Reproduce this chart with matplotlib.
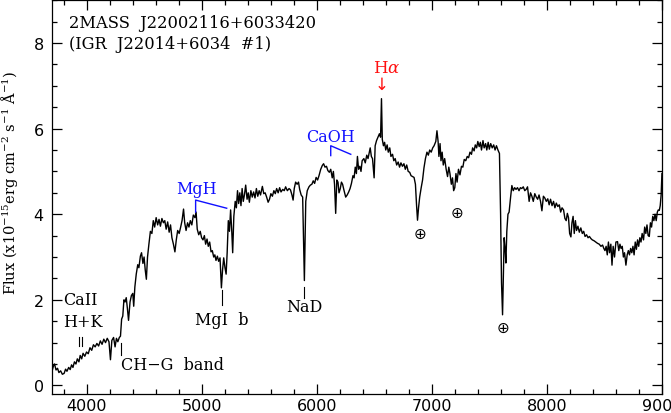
import numpy as np
import matplotlib
matplotlib.use('Agg')
import matplotlib.pyplot as plt
from matplotlib.ticker import MultipleLocator

# spectrum (wavelength in A, flux in 1e-15 erg/cm2/s/A)
wave = [3700, 3712, 3722, 3735, 3748, 3760, 3775, 3790, 3805, 3818, 3830, 3845, 3858, 3870, 3882, 3895,
        3908, 3920, 3934, 3945, 3958, 3970, 3985, 4000, 4015, 4030, 4045, 4060, 4075, 4090, 4105, 4120,
        4135, 4150, 4165, 4180, 4195, 4208, 4220, 4235, 4248, 4260, 4272, 4285, 4295, 4305, 4315, 4325,
        4335, 4345, 4355, 4365, 4378, 4390, 4402, 4410, 4420, 4432, 4445, 4455, 4468, 4478, 4490, 4500,
        4510, 4520, 4530, 4542, 4555, 4568, 4580, 4592, 4605, 4618, 4630, 4642, 4655, 4668, 4680, 4692,
        4705, 4718, 4730, 4742, 4755, 4768, 4780, 4792, 4805, 4818, 4830, 4843, 4853, 4865, 4878, 4890,
        4902, 4915, 4928, 4942, 4952, 4962, 4975, 4988, 5000, 5012, 5024, 5035, 5047, 5058, 5070, 5082,
        5093, 5105, 5115, 5125, 5137, 5148, 5160, 5172, 5182, 5192, 5203, 5213, 5222, 5232, 5242, 5252,
        5262, 5270, 5280, 5292, 5302, 5312, 5322, 5332, 5342, 5352, 5362, 5372, 5383, 5395, 5405, 5415,
        5428, 5440, 5452, 5464, 5476, 5488, 5500, 5512, 5528, 5540, 5552, 5565, 5578, 5590, 5602, 5615,
        5628, 5640, 5652, 5665, 5678, 5690, 5705, 5718, 5730, 5745, 5760, 5772, 5785, 5795, 5805, 5817,
        5830, 5842, 5852, 5865, 5878, 5893, 5905, 5918, 5933, 5945, 5958, 5970, 5982, 5995, 6008, 6020,
        6035, 6049, 6060, 6072, 6085, 6097, 6110, 6122, 6135, 6145, 6155, 6165, 6175, 6185, 6194, 6205,
        6215, 6225, 6238, 6252, 6265, 6278, 6290, 6302, 6315, 6325, 6335, 6345, 6354, 6364, 6375, 6385,
        6395, 6410, 6422, 6435, 6446, 6455, 6465, 6475, 6485, 6499, 6508, 6520, 6532, 6545, 6555, 6563,
        6570, 6580, 6590, 6600, 6612, 6622, 6635, 6645, 6659, 6670, 6682, 6695, 6708, 6720, 6732, 6745,
        6758, 6770, 6782, 6795, 6808, 6820, 6833, 6846, 6858, 6868, 6876, 6885, 6895, 6908, 6920, 6932,
        6945, 6958, 6970, 6982, 6995, 7008, 7020, 7035, 7045, 7055, 7062, 7072, 7080, 7090, 7100, 7112,
        7125, 7137, 7148, 7158, 7170, 7180, 7190, 7200, 7210, 7220, 7232, 7245, 7258, 7270, 7282, 7295,
        7308, 7320, 7332, 7345, 7355, 7368, 7378, 7390, 7400, 7412, 7422, 7432, 7445, 7455, 7468, 7478,
        7490, 7500, 7512, 7525, 7538, 7550, 7562, 7575, 7588, 7598, 7606, 7615, 7622, 7629, 7637, 7644,
        7652, 7662, 7672, 7685, 7696, 7708, 7720, 7732, 7745, 7758, 7770, 7782, 7795, 7808, 7820, 7832,
        7846, 7858, 7870, 7882, 7895, 7908, 7920, 7932, 7945, 7957, 7970, 7982, 7995, 8008, 8020, 8032,
        8045, 8058, 8070, 8082, 8095, 8108, 8120, 8132, 8145, 8157, 8168, 8178, 8188, 8198, 8209, 8218,
        8228, 8238, 8248, 8258, 8270, 8282, 8295, 8308, 8320, 8332, 8345, 8358, 8370, 8383, 8395, 8410,
        8425, 8440, 8455, 8470, 8484, 8495, 8505, 8515, 8525, 8535, 8545, 8556, 8566, 8576, 8588, 8600,
        8614, 8625, 8635, 8645, 8655, 8665, 8675, 8687, 8698, 8708, 8718, 8728, 8738, 8748, 8758, 8768,
        8778, 8788, 8798, 8808, 8818, 8828, 8840, 8850, 8860, 8870, 8880, 8890, 8900, 8910, 8920, 8930,
        8940, 8950, 8960, 8968, 8977, 8985, 8993, 9000]
flux = [0.33, 0.45, 0.50, 0.36, 0.40, 0.30, 0.34, 0.26, 0.28, 0.38, 0.33, 0.42, 0.37, 0.48, 0.42, 0.55,
        0.50, 0.62, 0.55, 0.70, 0.62, 0.75, 0.68, 0.78, 0.74, 0.88, 0.82, 0.95, 0.90, 0.98, 0.92, 1.04,
        0.96, 1.08, 1.00, 1.10, 1.02, 0.60, 1.05, 1.12, 0.90, 1.10, 1.02, 1.12, 1.15, 1.55, 1.62, 2.00,
        1.95, 2.05, 1.80, 1.52, 1.95, 2.10, 2.15, 1.85, 2.30, 2.60, 2.82, 2.75, 3.02, 3.10, 2.85, 3.00,
        2.70, 2.48, 3.00, 3.30, 3.60, 3.55, 3.85, 3.70, 3.92, 3.75, 3.88, 3.72, 3.90, 3.80, 3.85, 3.65,
        3.82, 3.58, 3.75, 3.45, 3.30, 3.12, 3.40, 3.62, 3.55, 3.70, 3.85, 4.12, 3.80, 3.62, 3.80, 3.70,
        3.85, 3.75, 3.98, 3.92, 4.05, 3.65, 3.52, 3.60, 3.45, 3.40, 3.50, 3.30, 3.42, 3.25, 3.35, 3.12,
        3.15, 3.00, 3.05, 2.92, 3.02, 2.90, 2.98, 2.28, 2.70, 2.98, 2.75, 2.60, 3.10, 3.85, 3.60, 4.10,
        3.60, 3.10, 3.95, 4.30, 4.15, 4.55, 4.25, 4.50, 4.20, 4.60, 4.30, 4.45, 4.68, 4.35, 4.50, 4.28,
        4.55, 4.40, 4.52, 4.38, 4.60, 4.42, 4.55, 4.45, 4.65, 4.48, 4.50, 4.40, 4.28, 4.35, 4.48, 4.42,
        4.55, 4.48, 4.60, 4.50, 4.62, 4.52, 4.58, 4.55, 4.64, 4.55, 4.60, 4.57, 4.45, 4.33, 4.60, 4.75,
        4.70, 4.75, 4.58, 4.45, 4.40, 2.45, 4.30, 4.55, 4.64, 4.68, 4.70, 4.78, 4.72, 4.86, 4.80, 4.90,
        5.05, 5.14, 5.18, 5.10, 5.12, 5.02, 4.98, 5.05, 4.85, 5.00, 4.70, 4.02, 4.80, 4.75, 4.50, 4.60,
        4.75, 4.70, 4.55, 4.40, 4.45, 4.52, 4.60, 4.72, 4.90, 4.85, 5.10, 4.95, 5.35, 5.05, 5.12, 5.00,
        5.25, 5.30, 5.20, 5.38, 5.30, 5.42, 5.55, 5.35, 5.30, 4.85, 5.60, 5.72, 5.80, 5.88, 5.80, 6.70,
        5.75, 5.60, 5.68, 5.50, 5.62, 5.45, 5.55, 5.35, 5.40, 5.25, 5.30, 5.15, 5.22, 5.10, 5.20, 5.12,
        5.18, 5.05, 5.15, 5.00, 4.98, 4.90, 4.88, 4.86, 4.70, 4.20, 3.86, 4.15, 4.40, 4.62, 4.80, 5.08,
        5.30, 5.45, 5.38, 5.50, 5.45, 5.55, 5.60, 5.70, 5.95, 5.70, 5.35, 5.65, 5.25, 5.45, 5.15, 5.30,
        5.05, 4.88, 5.10, 4.95, 4.70, 4.85, 4.55, 4.62, 4.95, 4.75, 5.05, 4.92, 5.12, 5.10, 5.28, 5.25,
        5.35, 5.32, 5.45, 5.40, 5.55, 5.48, 5.62, 5.55, 5.70, 5.58, 5.68, 5.50, 5.72, 5.55, 5.65, 5.50,
        5.68, 5.52, 5.65, 5.55, 5.62, 5.50, 5.60, 5.50, 5.42, 4.00, 2.40, 1.65, 2.50, 3.45, 3.20, 2.86,
        3.60, 4.00, 4.05, 4.40, 4.67, 4.55, 4.62, 4.58, 4.62, 4.55, 4.62, 4.60, 4.64, 4.55, 4.58, 4.64,
        4.30, 4.50, 4.42, 4.30, 4.48, 4.40, 4.35, 4.45, 4.30, 4.08, 4.42, 4.38, 4.30, 4.36, 4.22, 4.35,
        4.20, 4.30, 4.15, 4.26, 4.18, 4.22, 4.05, 4.15, 4.10, 3.90, 3.85, 4.02, 3.92, 3.55, 3.47, 3.80,
        3.95, 3.55, 3.85, 3.62, 3.72, 3.58, 3.68, 3.55, 3.60, 3.48, 3.52, 3.45, 3.48, 3.43, 3.40, 3.38,
        3.35, 3.32, 3.30, 3.25, 3.28, 3.20, 3.15, 3.25, 3.05, 3.35, 3.10, 3.30, 2.81, 3.25, 3.00, 3.35,
        3.36, 3.15, 3.30, 3.20, 3.25, 3.00, 3.10, 2.81, 3.05, 3.15, 3.05, 3.20, 3.10, 3.25, 3.05, 3.35,
        3.18, 3.40, 3.25, 3.45, 3.35, 3.55, 3.40, 3.70, 3.55, 3.75, 3.50, 3.48, 3.80, 3.70, 3.95, 3.85,
        4.00, 3.85, 4.05, 4.10, 4.09, 4.20, 4.45, 4.95]

# line identifications: (label, x, y, ha)
black_labels = [('CaII', 3800, 2.00, 'left'),
                ('H+K', 3800, 1.49, 'left'),
                ('CH\u2212G  band', 4302, 0.49, 'left'),
                ('MgI  b', 5175, 1.53, 'center'),
                ('NaD', 5893, 1.84, 'center')]
# short vertical marks: (x, y_low, y_high)
marks = [(3933, 0.91, 1.12), (3963, 0.91, 1.12), (4300, 0.72, 1.00),
         (5175, 1.88, 2.23), (5893, 2.05, 2.30)]
telluric_x = [6896, 7217, 7622]
telluric_y = [3.56, 4.05, 1.35]

serif = 'DejaVu Serif'
plt.rcParams['mathtext.fontset'] = 'dejavuserif'

fig = plt.figure(figsize=(6.71, 4.14), dpi=100)
ax = fig.add_axes([0.0775, 0.046, 0.909, 0.951])

ax.plot(wave, flux, color='black', lw=1.0)

ax.set_xlim(3700, 9000)
ax.set_ylim(-0.2, 9.0)
ax.xaxis.set_major_locator(MultipleLocator(1000))
ax.xaxis.set_minor_locator(MultipleLocator(200))
ax.yaxis.set_major_locator(MultipleLocator(2))
ax.yaxis.set_minor_locator(MultipleLocator(0.5))
ax.tick_params(which='both', direction='in', top=True, right=True, width=0.9)
ax.tick_params(which='major', length=7, labelsize=11.5)
ax.tick_params(which='minor', length=3.6)
ax.tick_params(axis='x', which='major', pad=3)
ax.tick_params(axis='y', which='major', pad=6)
for s in ax.spines.values():
    s.set_linewidth(0.9)

ax.set_ylabel(r'Flux (x10$^{-15}$erg cm$^{-2}$ s$^{-1}$ $\mathrm{\AA}^{-1}$)',
              family=serif, fontsize=10.5)
ax.yaxis.set_label_coords(-0.052, 0.54)

ax.text(3852, 8.47, '2MASS  J22002116+6033420', family=serif, fontsize=11.7, va='center')
ax.text(3852, 7.98, '(IGR  J22014+6034  #1)', family=serif, fontsize=11.7, va='center')

for lab, x, y, ha in black_labels:
    ax.text(x, y, lab, family=serif, fontsize=11.5, ha=ha, va='center')
for x, y0, y1 in marks:
    ax.plot([x, x], [y0, y1], color='black', lw=0.8)

# molecular bands in blue
blue = '#1010ff'
ax.plot([4948, 4948, 5218], [4.05, 4.33, 4.14], color=blue, lw=1)
ax.text(4957, 4.60, 'MgH', family=serif, fontsize=11.5, color=blue, ha='center', va='center')
ax.plot([6122, 6122, 6296], [5.37, 5.60, 5.40], color=blue, lw=1)
ax.text(6122, 5.81, 'CaOH', family=serif, fontsize=11.5, color=blue, ha='center', va='center')

# H alpha
red = '#ff1010'
ax.text(6610, 7.42, r'H$\alpha$', family=serif, fontsize=12, color=red, ha='center', va='center')
ax.text(6565, 7.05, '\u2193', fontsize=12, color=red, ha='center', va='center')

for x, y in zip(telluric_x, telluric_y):
    ax.text(x, y, '\u2295', fontsize=11, ha='center', va='center')

fig.savefig('out.png', dpi=100)
